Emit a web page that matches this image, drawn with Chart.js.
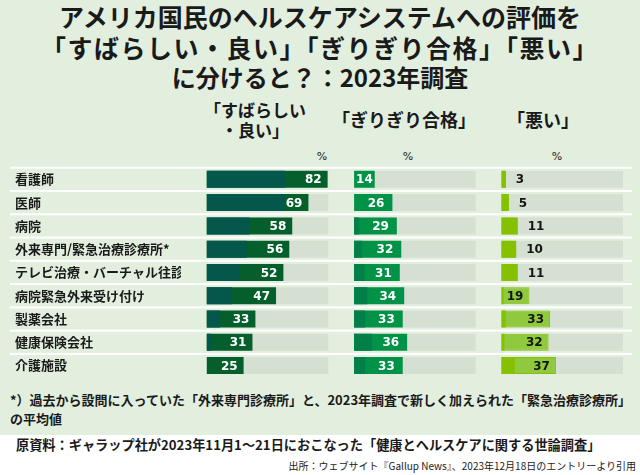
<!DOCTYPE html>
<html lang="ja">
<head>
<meta charset="utf-8">
<script src="https://cdn.jsdelivr.net/npm/chart.js@4.4.1/dist/chart.umd.min.js"></script>
<style>
  html, body { margin: 0; padding: 0; }
  body {
    width: 640px; height: 475px; position: relative; overflow: hidden;
    background: #ffffff; color: #1a1a1a;
    font-family: 'Noto Sans CJK JP', 'Noto Sans', sans-serif;
  }
  .panel { position: absolute; left: 0; top: 0; width: 640px; height: 435px; background: #e2efdf; }
  .t { position: absolute; white-space: nowrap; line-height: 1; font-weight: bold; }
  .title { left: 0; width: 640px; text-align: center; font-size: 25px; }
  .head { text-align: center; font-size: 17px; }
  .pct { font-family: 'DejaVu Sans', sans-serif; font-weight: normal; font-size: 11px; text-align: center; width: 20px; }
  #chartBox { position: absolute; left: 0; top: 140px; width: 640px; height: 245px; }
</style>
</head>
<body>
<div class="panel"></div>

<div class="t title" style="top:4px;">アメリカ国民のヘルスケアシステムへの評価を</div>
<div class="t title" style="top:35px; letter-spacing:1.5px;">「すばらしい・良い」「ぎりぎり合格」「悪い」</div>
<div class="t title" style="top:65px; font-size:24px;">に分けると？：2023年調査</div>

<div class="t head" style="left:195px; width:120px; top:101px;">「すばらしい</div>
<div class="t head" style="left:195px; width:120px; top:121px;">・良い」</div>
<div class="t head" style="left:332px; width:140px; top:110px; font-size:18px;">「ぎりぎり合格」</div>
<div class="t head" style="left:493px; width:100px; top:110px; font-size:18px;">「悪い」</div>

<div class="t pct" style="left:312px; top:151px;">%</div>
<div class="t pct" style="left:398px; top:151px;">%</div>
<div class="t pct" style="left:547px; top:151px;">%</div>

<div id="chartBox"><canvas id="chart" width="640" height="245"></canvas></div>

<div class="t" style="left:10px; top:393px; font-size:13px;">*）過去から設問に入っていた「外来専門診療所」と、2023年調査で新しく加えられた「緊急治療診療所」</div>
<div class="t" style="left:10px; top:412px; font-size:13px;">の平均値</div>
<div class="t" style="left:16px; top:438px; font-size:13.2px;">原資料：ギャラップ社が2023年11月1～21日におこなった「健康とヘルスケアに関する世論調査」</div>
<div class="t" style="right:4px; top:461px; font-size:10px; font-weight:normal;">出所：ウェブサイト『Gallup News』、2023年12月18日のエントリーより引用</div>

<script>
const categories = [
  '看護師', '医師', '病院', '外来専門/緊急治療診療所*', 'テレビ治療・バーチャル往診',
  '病院緊急外来受け付け', '製薬会社', '健康保険会社', '介護施設'
];
const excellentGood = [82, 69, 58, 56, 52, 47, 33, 31, 25];
const onlyFair      = [14, 26, 29, 32, 31, 34, 33, 36, 33];
const poor          = [3, 5, 11, 10, 11, 19, 33, 32, 37];

// darker inner part of each bar, as seen in the picture
const excellentShade = [53, 53, 29, 27, 22.5, 17, 9, 3, 0];
const fairShade      = [0, 0, 3.5, 5.5, 7, 9, 7.5, 12, 7.5];
const poorShade      = [3, 5, 11, 10, 11, 1.5, 3, 2, 9];

const trackColor = '#d6e0d2';
const axisMin = -17.5;
const axisMax = 82.5;

// ── tracks, row separators and value labels ─────────────────
const rowDecor = {
  id: 'rowDecor',
  beforeDatasetsDraw(chart) {
    const { ctx } = chart;
    const yScale = chart.scales.y;
    const pitch = yScale.getPixelForValue(1) - yScale.getPixelForValue(0);
    const barH = chart.getDatasetMeta(3).data[0].height;
    ctx.save();
    ctx.fillStyle = '#ffffff';
    categories.forEach((c, i) => {
      const y = yScale.getPixelForValue(i) - pitch / 2;
      ctx.fillRect(10, y - 1, 622, 2);
    });
    ctx.fillStyle = trackColor;
    ['x1', 'x2', 'x3'].forEach(id => {
      const s = chart.scales[id];
      const x0 = s.getPixelForValue(0);
      categories.forEach((c, i) => {
        const y = yScale.getPixelForValue(i);
        ctx.fillRect(x0, y - barH / 2, s.getPixelForValue(axisMax) - x0, barH);
      });
    });
    ctx.restore();
  },
  afterDatasetsDraw(chart) {
    const { ctx } = chart;
    ctx.save();
    ctx.font = 'bold 12px "DejaVu Sans", sans-serif';
    ctx.textBaseline = 'middle';
    [3, 4, 5].forEach(di => {
      const meta = chart.getDatasetMeta(di);
      const values = chart.data.datasets[di].data;
      meta.data.forEach((bar, i) => {
        const txt = String(values[i]);
        const w = ctx.measureText(txt).width;
        const y = bar.y + 1;
        if (di === 5) {
          ctx.fillStyle = '#141414';
          if (values[i] >= 15) {
            ctx.textAlign = 'right';
            ctx.fillText(txt, bar.x - 6, y);
          } else {
            ctx.textAlign = 'left';
            ctx.fillText(txt, bar.x + 10, y);
          }
        } else {
          ctx.fillStyle = '#ffffff';
          ctx.textAlign = 'right';
          const pad = di === 3 ? 6 : 8;
          ctx.fillText(txt, Math.max(bar.x - pad, bar.base + 2 + w), y);
        }
      });
    });
    ctx.restore();
  }
};

const xAxis = (weight) => ({
  type: 'linear',
  position: 'top',
  stack: 'cols',
  stackWeight: 1,
  weight,
  min: axisMin,
  max: axisMax,
  display: false,
});

new Chart(document.getElementById('chart'), {
  type: 'bar',
  data: {
    labels: categories,
    datasets: [
      { data: excellentShade, xAxisID: 'x1', backgroundColor: '#03574b' },
      { data: fairShade,      xAxisID: 'x2', backgroundColor: '#007f48' },
      { data: poorShade,      xAxisID: 'x3', backgroundColor: '#86c100' },
      { data: excellentGood,  xAxisID: 'x1', backgroundColor: '#055f2c' },
      { data: onlyFair,       xAxisID: 'x2', backgroundColor: '#009246' },
      { data: poor,           xAxisID: 'x3', backgroundColor: '#8fca3e',
        borderColor: '#84c000', borderWidth: 1, borderSkipped: false },
    ],
  },
  options: {
    indexAxis: 'y',
    responsive: false,
    animation: false,
    layout: { padding: { left: 15, top: 27.7, right: 17, bottom: 7.6 } },
    datasets: {
      bar: { grouped: false, categoryPercentage: 1, barPercentage: 0.73 },
    },
    plugins: {
      legend: { display: false },
      tooltip: { enabled: false },
    },
    scales: {
      y: {
        position: 'left',
        grid: { display: false, drawTicks: false },
        border: { display: false },
        ticks: {
          autoSkip: false,
          crossAlign: 'far',
          padding: 0,
          color: '#1a1a1a',
          font: { family: "'Noto Sans CJK JP', sans-serif", size: 13, weight: 'bold' },
        },
        afterFit: (scale) => { scale.width = 166; },
      },
      // stacked side by side; weights reversed so x1 comes first
      x1: xAxis(3),
      x2: xAxis(2),
      x3: xAxis(1),
    },
  },
  plugins: [rowDecor],
});
</script>
</body>
</html>
